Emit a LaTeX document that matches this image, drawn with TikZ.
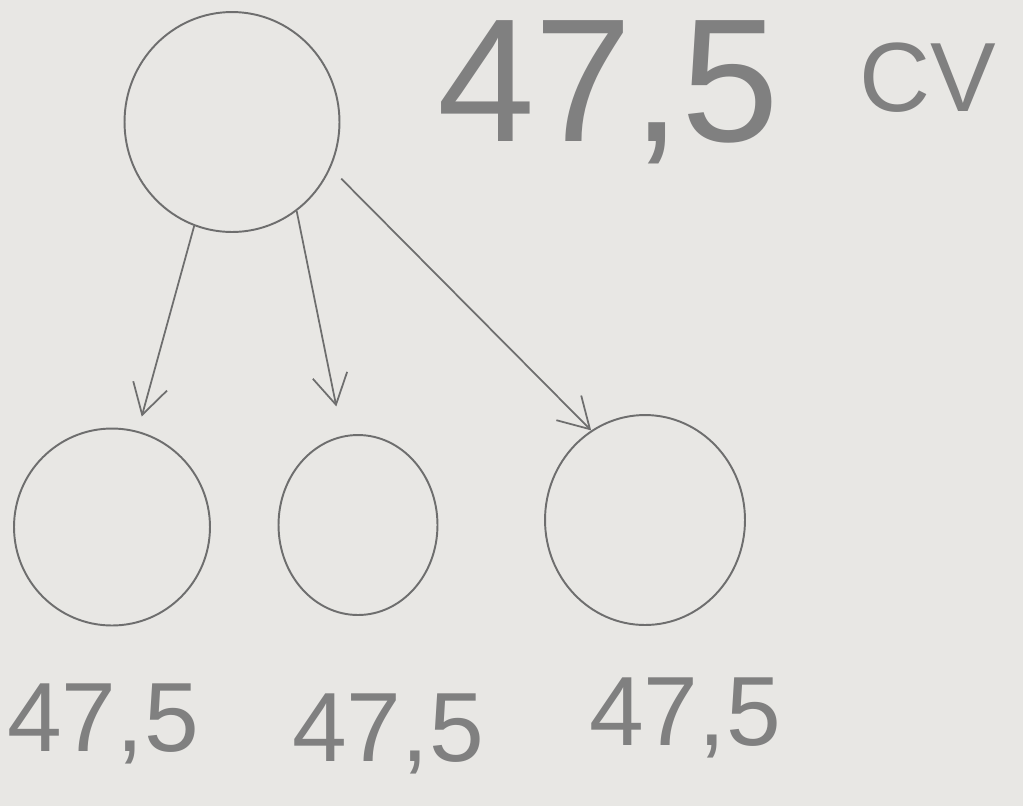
\documentclass[tikz,border=0pt]{standalone}
\usepackage{fontspec}
\setmainfont{Liberation Sans}
\usetikzlibrary{shapes.geometric,arrows.meta}
\definecolor{paper}{HTML}{E8E7E4}
\definecolor{pencil}{HTML}{6E6E6E}

\begin{document}
\begin{tikzpicture}[x=0.02cm,y=-0.02cm]
		% Define styles
		\tikzstyle{ball} = [ellipse, draw=pencil, line width=1.1pt, inner sep=0pt]
		\tikzstyle{bigval} = [text=pencil!85!paper, font=\fontsize{100}{100}\selectfont]
		\tikzstyle{smallval} = [text=pencil!85!paper, font=\fontsize{56}{56}\selectfont]
		\tikzstyle{arrow} = [pencil, line width=1pt, ->, >={Straight Barb[length=6mm,width=7mm]}]
		
		% Paper
		\fill [paper] (0,0) rectangle (1023,806);
		\useasboundingbox (0,0) rectangle (1023,806);
		
		% Place nodes
		\node [ball, minimum width=4.3cm, minimum height=4.4cm] (root) at (232,122) {};
		\node [ball, minimum width=3.92cm, minimum height=3.94cm] (left) at (112,527) {};
		\node [ball, minimum width=3.18cm, minimum height=3.6cm] (mid) at (358,525) {};
		\node [ball, minimum width=4cm, minimum height=4.2cm] (right) at (645,520) {};
		
		% Labels
		\node [bigval] (rootval) at (608,92) {47,5};
		\node [text=pencil!85!paper, font=\fontsize{56}{56}\selectfont] (unit) at (928,78) {CV};
		\node [smallval] (leftval) at (103,724) {47,5};
		\node [smallval] (midval) at (388,734) {47,5};
		\node [smallval] (rightval) at (685,718) {47,5};
		
		% Draw arrows
		\draw [arrow, shorten >=0.3cm] (root.250) -- (left.75);
		\draw [arrow, shorten >=0.6cm] (root.306) -- (mid.100);
		\draw [arrow, shorten <=0.3cm] (root.-25) -- (right.121);
	\end{tikzpicture}
\end{document}
